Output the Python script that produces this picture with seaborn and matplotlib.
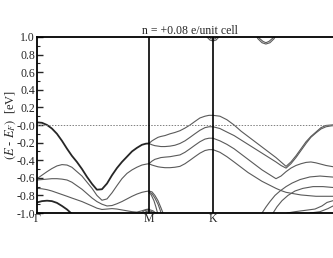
import numpy as np
import pandas as pd
import matplotlib
matplotlib.use('Agg')
import matplotlib.pyplot as plt
import seaborn as sns
from matplotlib.ticker import MultipleLocator

# high-symmetry points along the path (path length units)
sym_k = [0.0, 0.577, 0.907, 1.574]
sym_labels = ['Γ', 'M', 'K', '']  # closing Γ falls outside the cropped picture
title = 'n = +0.08 e/unit cell'

# Gamma -> M
k_gm = [0.000, 0.026, 0.052, 0.077, 0.103, 0.129, 0.155, 0.180, 0.206, 0.232, 0.258, 0.284,
        0.309, 0.335, 0.361, 0.387, 0.412, 0.438, 0.464, 0.490, 0.515, 0.541, 0.562, 0.577]
gm_band1 = [0.03, 0.025, 0.0, -0.04, -0.10, -0.18, -0.27, -0.35, -0.42, -0.50, -0.59, -0.67,
            -0.735, -0.73, -0.665, -0.57, -0.49, -0.42, -0.36, -0.30, -0.26, -0.225, -0.212, -0.21]
gm_band2 = [-0.61, -0.57, -0.53, -0.495, -0.465, -0.45, -0.455, -0.48, -0.53, -0.58, -0.65, -0.72,
            -0.80, -0.855, -0.84, -0.77, -0.69, -0.61, -0.55, -0.51, -0.48, -0.455, -0.445, -0.44]
gm_band3 = [-0.625, -0.62, -0.615, -0.61, -0.61, -0.615, -0.625, -0.65, -0.69, -0.73, -0.78, -0.83,
            -0.87, -0.90, -0.92, -0.915, -0.895, -0.87, -0.84, -0.81, -0.785, -0.765, -0.755, -0.75]
gm_band4 = [-0.72, -0.725, -0.735, -0.75, -0.77, -0.79, -0.81, -0.83, -0.85, -0.87, -0.895, -0.92,
            -0.945, -0.96, -0.955, -0.95, -0.955, -0.965, -0.975, -0.985, -0.99, -0.975, -0.96, -0.955]
k_gm5 = [0.0, 0.026, 0.052, 0.077, 0.103, 0.129, 0.155, 0.180, 0.206]
gm_band5 = [-0.88, -0.865, -0.86, -0.865, -0.885, -0.92, -0.96, -1.01, -1.07]

# M -> K
k_mk = [0.577, 0.593, 0.608, 0.624, 0.639, 0.660, 0.686, 0.711, 0.737, 0.763, 0.789, 0.814,
        0.840, 0.866, 0.887, 0.907]
mk_band1 = [-0.21, -0.18, -0.16, -0.14, -0.13, -0.12, -0.10, -0.085, -0.065, -0.035, 0.0, 0.04,
            0.08, 0.10, 0.11, 0.11]
mk_band2 = [-0.21, -0.225, -0.235, -0.24, -0.245, -0.245, -0.24, -0.23, -0.21, -0.18, -0.14, -0.10,
            -0.06, -0.03, -0.02, -0.02]
mk_band3 = [-0.44, -0.41, -0.39, -0.38, -0.37, -0.365, -0.36, -0.35, -0.34, -0.31, -0.27, -0.23,
            -0.19, -0.16, -0.15, -0.15]
mk_band4 = [-0.44, -0.455, -0.465, -0.475, -0.48, -0.485, -0.485, -0.48, -0.47, -0.44, -0.40, -0.36,
            -0.32, -0.29, -0.28, -0.28]
k_arc1 = [0.577, 0.593, 0.608, 0.624, 0.639, 0.655]
arc1 = [-0.75, -0.76, -0.80, -0.86, -0.94, -1.03]
k_arc2 = [0.577, 0.593, 0.608, 0.624, 0.634, 0.644]
arc2 = [-0.76, -0.78, -0.83, -0.90, -0.96, -1.03]
k_arc3 = [0.577, 0.588, 0.603, 0.613, 0.624]
arc3 = [-0.77, -0.79, -0.86, -0.93, -1.02]
k_arc4 = [0.531, 0.552, 0.577, 0.598, 0.619]
arc4 = [-1.01, -0.975, -0.96, -0.975, -1.01]
k_arc5 = [0.546, 0.562, 0.577, 0.593, 0.608]
arc5 = [-1.01, -0.985, -0.975, -0.985, -1.01]

# K -> Gamma
k_kg = [0.907, 0.943, 0.979, 1.016, 1.052, 1.088, 1.124, 1.160, 1.196, 1.232, 1.258, 1.284,
        1.309, 1.335, 1.361, 1.387, 1.412, 1.438, 1.464, 1.490, 1.516, 1.541, 1.574]
kg_band1 = [0.11, 0.10, 0.06, 0.0, -0.07, -0.13, -0.19, -0.25, -0.31, -0.37, -0.42, -0.47,
            -0.42, -0.35, -0.27, -0.19, -0.13, -0.08, -0.03, -0.005, 0.0, 0.005, 0.005]
kg_band2 = [-0.02, -0.04, -0.08, -0.12, -0.17, -0.22, -0.27, -0.32, -0.37, -0.42, -0.46, -0.49,
            -0.44, -0.37, -0.29, -0.21, -0.14, -0.09, -0.045, -0.02, -0.01, -0.005, 0.0]
kg_band3 = [-0.15, -0.18, -0.22, -0.27, -0.33, -0.39, -0.45, -0.51, -0.56, -0.61, -0.58, -0.53,
            -0.49, -0.46, -0.44, -0.425, -0.42, -0.43, -0.445, -0.46, -0.47, -0.48, -0.48]
kg_band4 = [-0.28, -0.31, -0.36, -0.42, -0.48, -0.54, -0.59, -0.64, -0.68, -0.72, -0.745, -0.765,
            -0.775, -0.785, -0.795, -0.80, -0.805, -0.81, -0.81, -0.81, -0.81, -0.81, -0.81]
k_kg5 = [1.160, 1.181, 1.201, 1.227, 1.253, 1.284, 1.315, 1.356, 1.407, 1.459, 1.516, 1.574]
kg_band5 = [-1.0, -0.93, -0.87, -0.80, -0.75, -0.70, -0.66, -0.62, -0.59, -0.58, -0.59, -0.60]
k_kg6 = [1.217, 1.237, 1.263, 1.294, 1.330, 1.371, 1.423, 1.474, 1.526, 1.574]
kg_band6 = [-1.0, -0.93, -0.86, -0.80, -0.75, -0.72, -0.70, -0.70, -0.71, -0.72]
k_kg7 = [1.289, 1.330, 1.382, 1.433, 1.469, 1.495, 1.526, 1.574]
kg_band7 = [-1.0, -0.985, -0.97, -0.955, -0.92, -0.88, -0.86, -0.85]
k_kg8 = [1.407, 1.459, 1.500, 1.526, 1.574]
kg_band8 = [-1.0, -0.985, -0.95, -0.92, -0.90]

# conduction band dips near the top
k_cb1 = [0.861, 0.876, 0.892, 0.907, 0.923, 0.938, 0.954]
cb1 = [1.06, 1.0, 0.965, 0.955, 0.965, 1.0, 1.06]
k_cb2 = [0.866, 0.882, 0.897, 0.907, 0.918, 0.933, 0.949]
cb2 = [1.06, 1.01, 0.98, 0.975, 0.98, 1.01, 1.06]
k_cb3 = [1.119, 1.139, 1.160, 1.180, 1.201, 1.222, 1.242]
cb3 = [1.06, 0.98, 0.935, 0.92, 0.935, 0.98, 1.06]
k_cb4 = [1.124, 1.144, 1.165, 1.180, 1.196, 1.217, 1.237]
cb4 = [1.06, 0.99, 0.95, 0.935, 0.95, 0.99, 1.06]

dark = [(k_gm, gm_band1), (k_gm5, gm_band5)]
grey = [(k_gm, gm_band2), (k_gm, gm_band3), (k_gm, gm_band4),
        (k_mk, mk_band1), (k_mk, mk_band2), (k_mk, mk_band3), (k_mk, mk_band4),
        (k_arc1, arc1), (k_arc2, arc2), (k_arc3, arc3), (k_arc4, arc4), (k_arc5, arc5),
        (k_kg, kg_band1), (k_kg, kg_band2), (k_kg, kg_band3), (k_kg, kg_band4),
        (k_kg5, kg_band5), (k_kg6, kg_band6), (k_kg7, kg_band7), (k_kg8, kg_band8),
        (k_cb1, cb1), (k_cb2, cb2), (k_cb3, cb3), (k_cb4, cb4)]


def to_frame(bands):
    parts = []
    for i, (k, e) in enumerate(bands):
        parts.append(pd.DataFrame({'k': k, 'E': e, 'band': i}))
    return pd.concat(parts, ignore_index=True)


sns.set_style('ticks')
plt.rcParams['font.family'] = ['Liberation Serif', 'DejaVu Serif']
plt.rcParams['mathtext.fontset'] = 'stix'

fig = plt.figure(figsize=(3.33, 2.58), dpi=100)
ax = fig.add_axes([0.111, 0.1744, 0.917, 0.6822])

sns.lineplot(data=to_frame(grey), x='k', y='E', units='band', estimator=None, sort=False,
             color='#5a5a5a', lw=0.8, ax=ax)
sns.lineplot(data=to_frame(dark), x='k', y='E', units='band', estimator=None, sort=False,
             color='#262626', lw=1.3, ax=ax)

ax.axhline(0, color='#808080', lw=0.7, ls=(0, (1.5, 1.5)))
for k in sym_k[1:3]:
    ax.axvline(k, color='black', lw=1.2)

ax.set_xlim(sym_k[0], sym_k[-1])
ax.set_ylim(-1.0, 1.0)
ax.set_xticks(sym_k)
ax.set_xticklabels(sym_labels)
ax.set_yticks(np.arange(-1.0, 1.01, 0.2))
ax.set_yticklabels([f'{v:.1f}' for v in np.arange(-1.0, 1.01, 0.2)])
ax.yaxis.set_minor_locator(MultipleLocator(0.1))
ax.tick_params(axis='y', which='major', direction='in', length=4, width=1, labelsize=8.5, pad=1.5)
ax.tick_params(axis='y', which='minor', direction='in', length=2, width=0.8)
ax.tick_params(axis='x', length=0, labelsize=8.5, pad=0)
for s in ax.spines.values():
    s.set_linewidth(1.3)
    s.set_color('black')

ax.set_xlabel('')
ax.set_ylabel(r'$(E$ - $E_F)$  [eV]', fontsize=9)
ax.yaxis.set_label_coords(-0.063, 0.5)
ax.set_title(title, fontsize=8.5, pad=2.5)

fig.savefig('out.png', dpi=100)
